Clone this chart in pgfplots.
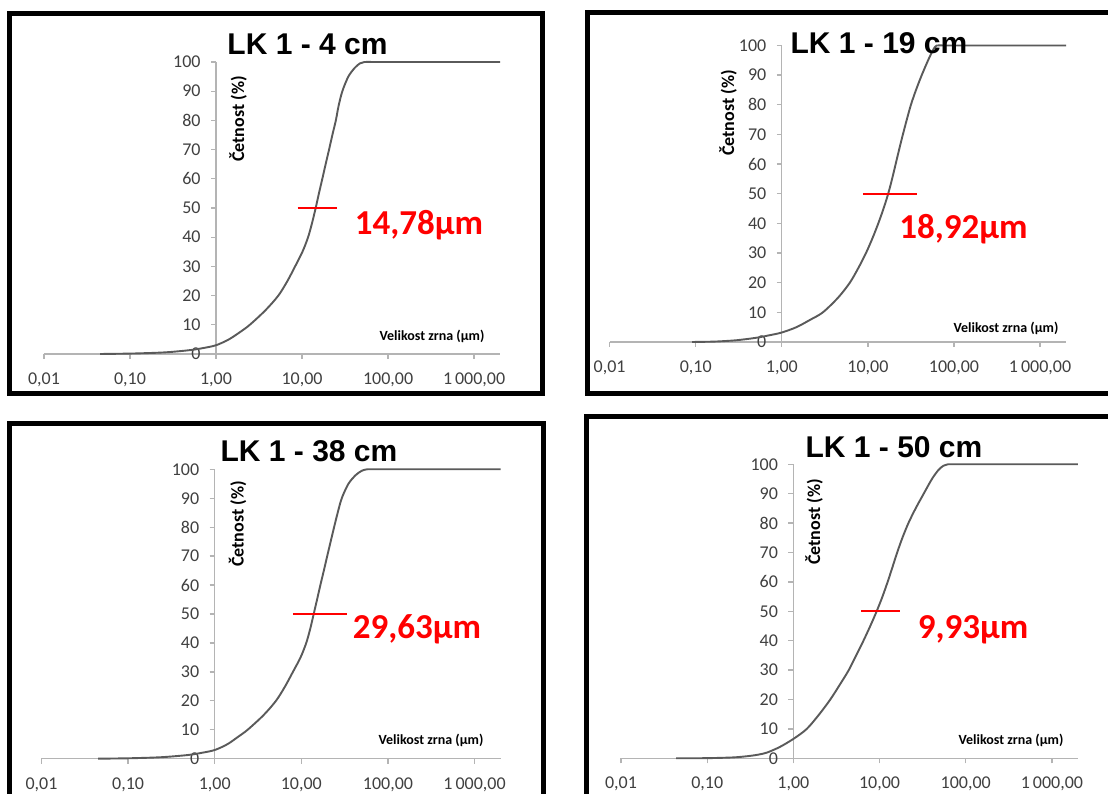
\documentclass[border=0pt]{standalone}
\usepackage{fontspec}
\setmainfont{Carlito}
\newfontfamily\titlefont{Liberation Sans}
\usepackage{pgfplots}
\pgfplotsset{compat=1.18}
\definecolor{axisgray}{HTML}{B4B4B4}
\definecolor{tickgray}{HTML}{404040}
\definecolor{curvegray}{HTML}{5A5A5A}
\pgfplotsset{every axis/.append style={
    scale only axis,
    xmin=0.01, xmax=2000, ymin=0, ymax=100,
    axis lines=middle,
    axis line style={draw=axisgray, line width=1.3bp, -},
    hide obscured x ticks=false, hide obscured y ticks=false,
    xtick={0.01,0.1,1,10,100,1000},
    xticklabels={{0,01},{0,10},{1,00},{10,00},{100,00},{1\,000,00}},
    ytick={0,10,20,30,40,50,60,70,80,90,100},
    yticklabels={0,10,20,30,40,50,60,70,80,90,100},
    xminorticks=false, yminorticks=false,
    tick align=outside, major tick length=5bp,
    major tick style={draw=axisgray, line width=1.3bp},
    ticklabel style={font=\fontsize{18bp}{18bp}\selectfont, text=tickgray},
    xticklabel style={anchor=center, yshift=-21bp},
    yticklabel style={anchor=east, xshift=-7bp},
    clip=false,
}}
\tikzset{
  mycurve/.style={draw=curvegray, line width=1.9bp, line join=round, smooth, tension=0.5},
  mymedian/.style={draw=red, line width=2bp},
  yline/.style={draw=axisgray, line width=1.3bp},
}
\newcommand{\ttl}[1]{{\titlefont\bfseries\fontsize{30bp}{30bp}\selectfont #1}}
\newcommand{\axlab}{\bfseries\fontsize{14bp}{14bp}\selectfont}
\newcommand{\ylab}{\bfseries\fontsize{18bp}{18bp}\selectfont}
\newcommand{\redlab}{\bfseries\fontsize{35bp}{35bp}\selectfont\color{red}}
\begin{document}
\begin{tikzpicture}[x=1bp,y=1bp]
\begin{scope}
\clip (0,0) rectangle (1108,794);
\fill[white] (0,0) rectangle (1108,794);
% frames
\draw[line width=5bp] (9.5,400.5) rectangle (542.5,780.5);
\draw[line width=5bp] (587,400) rectangle (1120,781.5);
\draw[line width=5bp] (9.5,-20) rectangle (543.5,370);
\draw[line width=5bp] (586.5,-20) rectangle (1120,377);

% ---------- Panel 1: LK 1 - 4 cm
\begin{semilogxaxis}[at={(44bp,440bp)}, anchor=south west, width=456bp, height=292bp]
\draw[yline] (axis cs:1,0) -- (axis cs:1,100);
\addplot[mycurve] coordinates {
(0.045,0) (0.1,0.14) (0.2,0.41) (0.3,0.7) (0.5,1.33) (0.7,2.0) (1.0,3.0)
(1.41,5) (1.9,7.5) (2.47,10) (3.76,15) (5.3,20) (6.76,25) (8.3,30)
(10.1,35) (11.75,40) (13.1,45) (14.4,50) (15.7,55) (17.2,60) (18.8,65)
(20.6,70) (22.5,75) (24.7,80) (26.6,85) (29.4,90) (34.5,95) (41,98)
(47,99.5) (53,100) (70,100) (150,100) (500,100) (2000,100)};
\addplot[mymedian] coordinates {(8.9,50) (25.3,50)};
\end{semilogxaxis}
\node[anchor=base] at (307.5,739) {\ttl{LK 1 - 4 cm}};
\node[rotate=90] at (238,675) {\ylab Četnost (\%)};
\node at (432,458) {\axlab Velikost zrna (µm)};
\node[anchor=base] at (419,559) {\redlab 14,78µm};

% ---------- Panel 2: LK 1 - 19 cm
\begin{semilogxaxis}[at={(609.6bp,452bp)}, anchor=south west, width=456.4bp, height=296.5bp]
\draw[yline] (axis cs:1,0) -- (axis cs:1,100);
\addplot[mycurve] coordinates {
(0.091,0) (0.15,0.1) (0.2,0.25) (0.3,0.6) (0.5,1.4) (0.7,2.2) (1.0,3.2)
(1.48,5) (2.14,7.5) (3.0,10) (4.52,15) (6.17,20) (7.76,25) (9.5,30)
(11.3,35) (13.2,40) (15.2,45) (17.2,50) (19.1,55) (21.0,60) (23.1,65)
(25.5,70) (28.3,75) (31.6,80) (36.2,85) (42.2,90) (50,95) (56,98)
(60,99.5) (63,100) (80,100) (150,100) (500,100) (2000,100)};
\addplot[mymedian] coordinates {(8.77,50) (37.2,50)};
\end{semilogxaxis}
\node[anchor=base] at (879,740) {\ttl{LK 1 - 19 cm}};
\node[rotate=90] at (728,681) {\ylab Četnost (\%)};
\node at (1006,466) {\axlab Velikost zrna (µm)};
\node[anchor=base] at (963.5,555) {\redlab 18,92µm};

% ---------- Panel 3: LK 1 - 38 cm
\begin{semilogxaxis}[at={(41.5bp,35.3bp)}, anchor=south west, width=459.1bp, height=289.4bp]
\draw[yline] (axis cs:1,0) -- (axis cs:1,100);
\addplot[mycurve] coordinates {
(0.045,0) (0.1,0.14) (0.2,0.4) (0.3,0.7) (0.5,1.3) (0.7,2.0) (1.0,3.0)
(1.4,5) (1.85,7.5) (2.4,10) (3.65,15) (5.1,20) (6.5,25) (8.0,30)
(9.8,35) (11.4,40) (12.7,45) (13.9,50) (15.2,55) (16.6,60) (18.2,65)
(19.9,70) (21.8,75) (23.9,80) (26.3,85) (29.3,90) (35,95) (42.5,98)
(50,99.5) (58,100) (75,100) (150,100) (500,100) (2000,100)};
\addplot[mymedian] coordinates {(8.0,50) (33.7,50)};
\end{semilogxaxis}
\node[anchor=base] at (309,332.3) {\ttl{LK 1 - 38 cm}};
\node[rotate=90] at (237.7,270) {\ylab Četnost (\%)};
\node at (431,54) {\axlab Velikost zrna (µm)};
\node[anchor=base] at (417,155) {\redlab 29,63µm};

% ---------- Panel 4: LK 1 - 50 cm
\begin{semilogxaxis}[at={(621bp,35.7bp)}, anchor=south west, width=456.9bp, height=294bp]
\draw[yline] (axis cs:1,0) -- (axis cs:1,100);
\addplot[mycurve] coordinates {
(0.0435,0) (0.1,0.05) (0.2,0.3) (0.3,0.75) (0.4,1.3) (0.5,2.0) (0.7,3.9)
(1.0,6.6) (1.43,10) (2.0,15) (2.68,20) (3.45,25) (4.39,30) (5.35,35)
(6.5,40) (7.8,45) (9.25,50) (10.8,55) (12.4,60) (14.1,65) (16.0,70)
(18.4,75) (21.6,80) (26.2,85) (32.5,90) (40.5,95) (48,98) (55,99.5)
(62,100) (80,100) (150,100) (500,100) (2000,100)};
\addplot[mymedian] coordinates {(6.1,50) (17.1,50)};
\end{semilogxaxis}
\node[anchor=base] at (894,336) {\ttl{LK 1 - 50 cm}};
\node[rotate=90] at (814,272) {\ylab Četnost (\%)};
\node at (1011,54) {\axlab Velikost zrna (µm)};
\node[anchor=base] at (973,155) {\redlab 9,93µm};
\end{scope}
\pgfresetboundingbox
\useasboundingbox (0,0) rectangle (1108,794);
\end{tikzpicture}
\end{document}
